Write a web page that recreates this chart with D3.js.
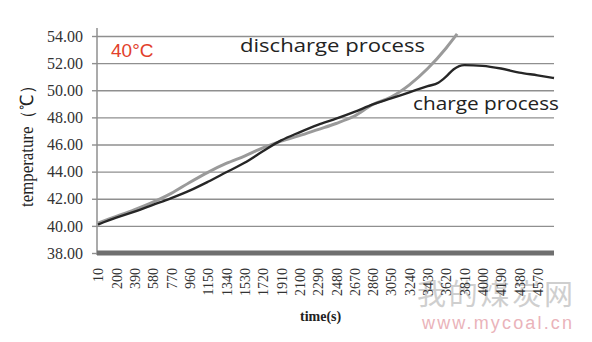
<!DOCTYPE html>
<html>
<head>
<meta charset="utf-8">
<script src="https://cdn.jsdelivr.net/npm/d3@7"></script>
<style>
  body { margin: 0; background: #fff; }
  svg { display: block; }
  .tick-label { font-family: "Liberation Serif", "Times New Roman", serif; fill: #333; }
</style>
</head>
<body>
<div id="chart"></div>
<script>
// tick labels on the time axis (s)
const timeTicks = d3.range(10, 4571, 190);
const tempTicks = [38, 40, 42, 44, 46, 48, 50, 52, 54];

// charge process (black line)
const chargeTime = [10, 200, 390, 580, 770, 960, 1150, 1340, 1530, 1720, 1910, 2100, 2290, 2480, 2670, 2860, 3050, 3240, 3430, 3540, 3620, 3700, 3810, 4000, 4190, 4380, 4570, 4740];
const chargeTemp = [40.1, 40.6, 41.05, 41.55, 42.05, 42.6, 43.25, 43.95, 44.65, 45.5, 46.3, 46.9, 47.45, 47.9, 48.4, 48.95, 49.4, 49.85, 50.3, 50.55, 51.0, 51.55, 51.85, 51.8, 51.6, 51.3, 51.1, 50.9];

// discharge process (grey line)
const dischargeTime = [10, 200, 390, 580, 770, 960, 1150, 1340, 1530, 1720, 1910, 2100, 2290, 2480, 2670, 2860, 3050, 3240, 3430, 3620, 3735];
const dischargeTemp = [40.2, 40.7, 41.2, 41.75, 42.4, 43.2, 43.95, 44.6, 45.15, 45.75, 46.25, 46.65, 47.1, 47.55, 48.1, 48.95, 49.5, 50.4, 51.6, 53.1, 54.15];

const W = 592, H = 342;
const plot = { left: 97, right: 554, top: 36, bottom: 253 };

const svg = d3.select("#chart")
  .append("svg")
  .attr("width", W)
  .attr("height", H);

const x = d3.scaleLinear().domain([0, 4740]).range([plot.left, plot.right]);
const y = d3.scaleLinear().domain([38, 54]).range([plot.bottom, plot.top]);

// watermark
svg.append("text")
  .attr("x", 417).attr("y", 305)
  .attr("font-family", "Noto Sans CJK SC")
  .attr("font-size", 29)
  .attr("fill", "#cfcfcf")
  .attr("textLength", 156)
  .text("我的煤炭网");
svg.append("text")
  .attr("x", 422).attr("y", 329)
  .attr("font-family", "Liberation Sans, Arial, sans-serif")
  .attr("font-size", 18)
  .attr("fill", "#eab3ba")
  .attr("textLength", 150)
  .text("www.mycoal.cn");

// horizontal grid lines
svg.append("g")
  .attr("transform", `translate(${plot.left},0)`)
  .call(d3.axisLeft(y).tickValues(tempTicks.slice(1)).tickSize(-(plot.right - plot.left)).tickFormat(""))
  .call(g => g.select(".domain").remove())
  .call(g => g.selectAll(".tick line").attr("stroke", "#8f8f8f").attr("stroke-width", 1.4));

// y axis
const yAxis = svg.append("g")
  .attr("transform", `translate(${plot.left},0)`)
  .call(d3.axisLeft(y).tickValues(tempTicks).tickSize(5).tickPadding(9).tickFormat(d3.format(".2f")));
yAxis.select(".domain")
  .attr("d", `M0,${plot.top - 8}V${plot.bottom + 2}`)
  .attr("stroke", "#8f8f8f").attr("stroke-width", 1.5);
yAxis.selectAll(".tick line").attr("stroke", "#8f8f8f").attr("stroke-width", 1.4);
yAxis.selectAll(".tick text")
  .attr("class", "tick-label")
  .attr("font-size", 16);

// thick base line at 38
svg.append("line")
  .attr("x1", plot.left).attr("x2", plot.right)
  .attr("y1", y(38)).attr("y2", y(38))
  .attr("stroke", "#6f6f6f")
  .attr("stroke-width", 5);

// x axis labels (rotated)
const xAxis = svg.append("g")
  .attr("transform", `translate(0,${plot.bottom})`)
  .call(d3.axisBottom(x).tickValues(timeTicks).tickSize(0).tickFormat(d3.format("d")));
xAxis.select(".domain").remove();
xAxis.selectAll(".tick text")
  .attr("class", "tick-label")
  .attr("font-size", 14)
  .attr("transform", "rotate(-90)")
  .attr("text-anchor", "end")
  .attr("x", -15)
  .attr("y", 0)
  .attr("dy", "0.35em")
  .attr("dx", 0);

// lines
const line = d3.line()
  .x(d => x(d[0]))
  .y(d => y(d[1]))
  .curve(d3.curveMonotoneX);

svg.append("path")
  .datum(dischargeTime.map((t, i) => [t, dischargeTemp[i]]))
  .attr("fill", "none")
  .attr("stroke", "#9a9a9a")
  .attr("stroke-width", 3)
  .attr("d", line);

svg.append("path")
  .datum(chargeTime.map((t, i) => [t, chargeTemp[i]]))
  .attr("fill", "none")
  .attr("stroke", "#262626")
  .attr("stroke-width", 2.4)
  .attr("d", line);

// annotations
svg.append("text")
  .attr("x", 111).attr("y", 57)
  .attr("font-family", "Liberation Sans, Arial, sans-serif")
  .attr("font-size", 19)
  .attr("fill", "#e2402b")
  .text("40°C");

svg.append("text")
  .attr("x", 240).attr("y", 52)
  .attr("font-family", "Open Sans, sans-serif")
  .attr("font-size", 19)
  .attr("fill", "#222")
  .attr("textLength", 185)
  .attr("lengthAdjust", "spacingAndGlyphs")
  .text("discharge process");

svg.append("text")
  .attr("x", 413).attr("y", 110)
  .attr("font-family", "Open Sans, sans-serif")
  .attr("font-size", 19)
  .attr("fill", "#222")
  .attr("textLength", 146)
  .attr("lengthAdjust", "spacingAndGlyphs")
  .text("charge process");

// axis titles
svg.append("text")
  .attr("transform", "translate(33,142) rotate(-90)")
  .attr("text-anchor", "middle")
  .attr("font-family", "Liberation Serif, serif")
  .attr("font-size", 18)
  .attr("fill", "#222")
  .attr("textLength", 130)
  .attr("lengthAdjust", "spacingAndGlyphs")
  .text("temperature（℃）");

svg.append("text")
  .attr("x", 300).attr("y", 321)
  .attr("font-family", "Liberation Serif, serif")
  .attr("font-size", 14)
  .attr("font-weight", "bold")
  .attr("fill", "#222")
  .text("time(s)");
</script>
</body>
</html>
